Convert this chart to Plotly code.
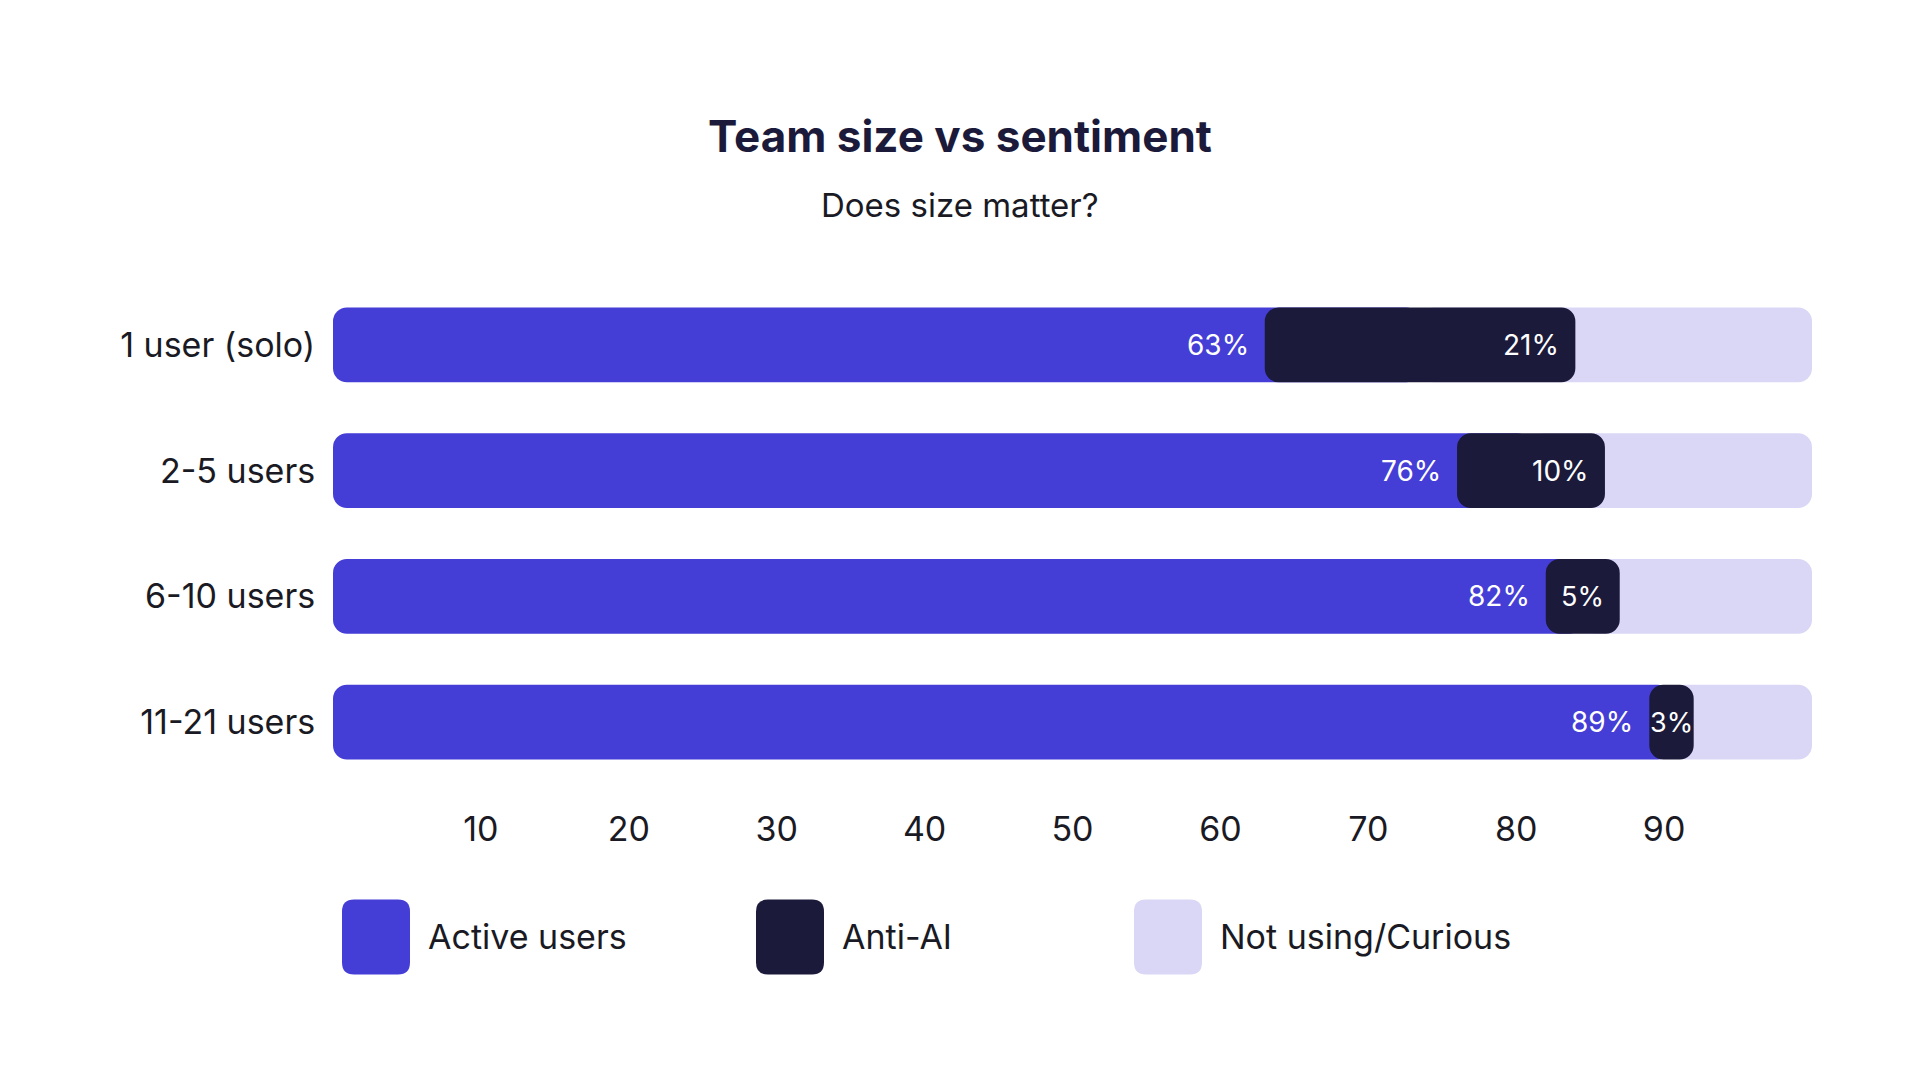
import plotly.graph_objects as go

groups = ["1 user (solo)", "2-5 users", "6-10 users", "11-21 users"]
active = [63, 76, 82, 89]
anti_ai = [21, 10, 5, 3]
not_using = [16, 14, 13, 8]
series_names = ["Active users", "Anti-AI", "Not using/Curious"]
ticks = [10, 20, 30, 40, 50, 60, 70, 80, 90]

colors = ["#443dd6", "#1c1a3a", "#d9d7f5"]
font = "Inter"
W, H = 1920, 1080
ml, mr, mt, mb = 333, 108, 282, 295
radius = 14

# blue and lavender meet under the middle of the dark segment, so the dark one
# sits on top with its rounded ends showing the neighbours behind it
mid = [a + b / 2 for a, b in zip(active, anti_ai)]
total = [a + b + c for a, b, c in zip(active, anti_ai, not_using)]

fig = go.Figure()
fig.add_trace(go.Bar(y=groups, base=mid, x=[t - m for t, m in zip(total, mid)], orientation="h",
                     marker=dict(color=colors[2], cornerradius=radius, line=dict(width=0)),
                     name=series_names[2], hoverinfo="skip"))
fig.add_trace(go.Bar(y=groups, base=[0] * len(groups), x=mid, orientation="h",
                     marker=dict(color=colors[0], cornerradius=radius, line=dict(width=0)),
                     name=series_names[0], hoverinfo="skip"))
fig.add_trace(go.Bar(y=groups, base=active, x=anti_ai, orientation="h",
                     marker=dict(color=colors[1], cornerradius=radius, line=dict(width=0)),
                     name=series_names[1], hoverinfo="skip"))

# value labels
for g, a, b in zip(groups, active, anti_ai):
    fig.add_annotation(x=a, y=g, xref="x", yref="y", text=f"{a}%", showarrow=False,
                       xanchor="right", xshift=-14,
                       font=dict(family=font, size=28, color="white"))
    if b >= 8:
        fig.add_annotation(x=a + b, y=g, xref="x", yref="y", text=f"{b}%", showarrow=False,
                           xanchor="right", xshift=-14,
                           font=dict(family=font, size=28, color="white"))
    else:
        fig.add_annotation(x=a + b / 2, y=g, xref="x", yref="y", text=f"{b}%", showarrow=False,
                           xanchor="center",
                           font=dict(family=font, size=27, color="white"))

# legend drawn as big rounded swatches
pw, ph = W - ml - mr, H - mt - mb
def px_x(v):
    return (v - ml) / pw
def px_y(v):
    return (H - mb - v) / ph

legend_x = [342, 756, 1134]
sw, sh, r, cy = 68, 75, 12, 937
for name, col, lx in zip(series_names, colors, legend_x):
    x0, x1, y0, y1 = lx, lx + sw, cy - sh / 2, cy + sh / 2
    pts = [
        ("M", x0 + r, y0), ("L", x1 - r, y0), ("Q", x1, y0, x1, y0 + r),
        ("L", x1, y1 - r), ("Q", x1, y1, x1 - r, y1), ("L", x0 + r, y1),
        ("Q", x0, y1, x0, y1 - r), ("L", x0, y0 + r), ("Q", x0, y0, x0 + r, y0),
    ]
    path = ""
    for p in pts:
        coords = []
        for i in range(1, len(p), 2):
            coords.append(f"{px_x(p[i]):.5f},{px_y(p[i + 1]):.5f}")
        path += p[0] + " ".join(coords) + " "
    fig.add_shape(type="path", path=path + "Z", xref="paper", yref="paper",
                  fillcolor=col, line=dict(width=0))
    fig.add_annotation(x=px_x(lx + sw + 16), y=px_y(cy), xref="paper", yref="paper",
                       text=name, showarrow=False, xanchor="left", yanchor="middle",
                       font=dict(family=font, size=34, color="#1a1a24"))

fig.add_annotation(x=px_x(W / 2), y=px_y(205), xref="paper", yref="paper", text="Does size matter?",
                   showarrow=False, xanchor="center", yanchor="middle",
                   font=dict(family=font, size=33, color="#1a1a24"))

fig.update_layout(
    width=W, height=H,
    barmode="overlay", bargap=0.404,
    plot_bgcolor="white", paper_bgcolor="white",
    margin=dict(l=ml, r=mr, t=mt, b=mb),
    title=dict(text="<b>Team size vs sentiment</b>", x=0.5, xref="container", xanchor="center",
               y=1 - 137 / H, yref="container", yanchor="middle",
               font=dict(family=font, size=44, color="#1c1a3a")),
    showlegend=False,
)
fig.update_xaxes(range=[0, 100], tickvals=ticks, showgrid=False, zeroline=False, showline=False,
                 ticks="outside", ticklen=14, tickcolor="rgba(0,0,0,0)",
                 tickfont=dict(family=font, size=34, color="#1a1a24"), fixedrange=True)
fig.update_yaxes(autorange="reversed", showgrid=False, zeroline=False, showline=False,
                 ticks="outside", ticklen=10, tickcolor="rgba(0,0,0,0)",
                 tickfont=dict(family=font, size=34, color="#1a1a24"), fixedrange=True)

fig.write_html("out.html", config={"displayModeBar": False},
               post_script="document.body.style.margin='0';")
